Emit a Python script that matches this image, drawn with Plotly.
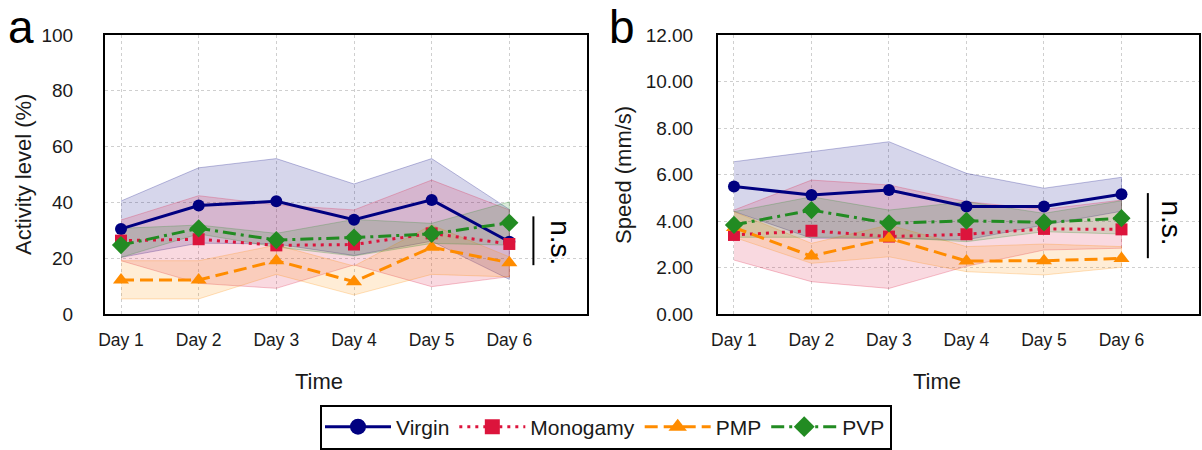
import plotly.graph_objects as go

days = ["Day 1", "Day 2", "Day 3", "Day 4", "Day 5", "Day 6"]
groups = ["Virgin", "Monogamy", "PMP", "PVP"]

# Panel a: Activity level (%)
act_virgin = [30.5, 38.9, 40.4, 33.8, 40.9, 25.9]
act_virgin_lo = [20.3, 25.4, 25.1, 21.0, 26.1, 12.4]
act_virgin_hi = [40.5, 52.4, 55.7, 46.6, 55.7, 37.5]
act_mono = [26.3, 26.8, 24.6, 24.9, 28.9, 25.1]
act_mono_lo = [19.1, 11.0, 9.2, 17.6, 9.8, 13.4]
act_mono_hi = [33.7, 42.4, 39.1, 37.3, 48.0, 37.3]
act_pmp = [12.2, 12.2, 19.1, 11.6, 23.9, 18.4]
act_pmp_lo = [5.4, 5.4, 14.2, 6.8, 14.2, 13.3]
act_pmp_hi = [19.1, 19.1, 24.7, 17.2, 31.9, 20.5]
act_pvp = [24.7, 30.7, 26.5, 27.4, 28.7, 32.7]
act_pvp_lo = [20.3, 28.7, 24.0, 20.8, 25.3, 24.7]
act_pvp_hi = [30.7, 31.9, 28.9, 33.9, 32.5, 40.2]

# Panel b: Speed (mm/s)
spd_virgin = [5.48, 5.12, 5.33, 4.62, 4.62, 5.15]
spd_virgin_lo = [4.41, 3.26, 3.25, 3.19, 3.83, 4.42]
spd_virgin_hi = [6.55, 6.98, 7.41, 6.05, 5.41, 5.88]
spd_mono = [3.40, 3.58, 3.33, 3.43, 3.66, 3.64]
spd_mono_lo = [2.32, 1.39, 1.10, 2.05, 2.75, 2.83]
spd_mono_hi = [4.47, 5.76, 5.55, 4.83, 4.50, 4.90]
spd_pmp = [3.72, 2.49, 3.26, 2.28, 2.29, 2.39]
spd_pmp_lo = [3.30, 2.18, 2.46, 1.82, 1.68, 2.01]
spd_pmp_hi = [4.40, 3.04, 3.83, 2.90, 3.01, 2.90]
spd_pvp = [3.83, 4.47, 3.90, 4.01, 3.94, 4.12]
spd_pvp_lo = [3.30, 3.30, 3.30, 3.11, 3.54, 3.44]
spd_pvp_hi = [4.40, 5.04, 4.47, 4.83, 4.33, 4.87]

styles = {
    "Virgin": dict(color=(0, 0, 128), dash="solid", symbol="circle", msize=12, lsize=16),
    "Monogamy": dict(color=(220, 20, 60), dash="3px,5px", symbol="square", msize=12, lsize=15),
    "PMP": dict(color=(255, 140, 0), dash="13px,6px", symbol="triangle-up", msize=14, lsize=18),
    "PVP": dict(color=(34, 139, 34), dash="13px,5px,3px,5px", symbol="diamond", msize=14, lsize=18),
}

panels = [
    ("x", "y", {
        "Virgin": (act_virgin, act_virgin_lo, act_virgin_hi),
        "Monogamy": (act_mono, act_mono_lo, act_mono_hi),
        "PMP": (act_pmp, act_pmp_lo, act_pmp_hi),
        "PVP": (act_pvp, act_pvp_lo, act_pvp_hi),
    }),
    ("x2", "y2", {
        "Virgin": (spd_virgin, spd_virgin_lo, spd_virgin_hi),
        "Monogamy": (spd_mono, spd_mono_lo, spd_mono_hi),
        "PMP": (spd_pmp, spd_pmp_lo, spd_pmp_hi),
        "PVP": (spd_pvp, spd_pvp_lo, spd_pvp_hi),
    }),
]

def rgba(c, a):
    return f"rgba({c[0]},{c[1]},{c[2]},{a})"

fig = go.Figure()
for xa, ya, data in panels:
    for g in groups:
        mean, lo, hi = data[g]
        c = styles[g]["color"]
        fig.add_trace(go.Scatter(
            x=days + days[::-1], y=hi + lo[::-1], fill="toself",
            fillcolor=rgba(c, 0.16), line=dict(color=rgba(c, 0.25), width=1),
            mode="lines", showlegend=False, hoverinfo="skip", xaxis=xa, yaxis=ya))
for xa, ya, data in panels:
    for g in groups:
        mean, lo, hi = data[g]
        s = styles[g]
        fig.add_trace(go.Scatter(
            x=days, y=mean, mode="lines+markers", name=g, legendgroup=g,
            line=dict(color=rgba(s["color"], 1), width=3, dash=s["dash"]),
            marker=dict(symbol=s["symbol"], size=s["msize"], color=rgba(s["color"], 1)),
            showlegend=False, xaxis=xa, yaxis=ya))
# legend entries (slightly larger markers, as in the original legend)
for g in groups:
    s = styles[g]
    fig.add_trace(go.Scatter(
        x=[None], y=[None], mode="lines+markers", name=g, legendgroup=g,
        line=dict(color=rgba(s["color"], 1), width=3, dash=s["dash"]),
        marker=dict(symbol=s["symbol"], size=s["lsize"], color=rgba(s["color"], 1)),
        showlegend=True))

font_fam = "Arial, Liberation Sans, sans-serif"
axis_common = dict(showline=True, mirror=True, linecolor="black", linewidth=2,
                   showgrid=True, gridcolor="#cfcfcf", griddash="dot", gridwidth=1,
                   zeroline=False, ticks="", automargin=False)
fig.update_layout(
    width=1202, height=450, autosize=False,
    margin=dict(l=0, r=0, t=0, b=0, pad=0, autoexpand=False),
    paper_bgcolor="white", plot_bgcolor="white",
    font=dict(family=font_fam, color="#1a1a1a"),
    xaxis=dict(domain=[105/1202, 587/1202], type="category", range=[-0.206, 6.0],
               tickfont=dict(size=17.5), ticklabelstandoff=9, **axis_common),
    yaxis=dict(domain=[1-314/450, 1-35/450], range=[0, 100], tickvals=[0, 20, 40, 60, 80, 100],
               tickfont=dict(size=19), ticklabelstandoff=26, **axis_common),
    xaxis2=dict(domain=[718/1202, 1199/1202], type="category", range=[-0.206, 6.0],
                tickfont=dict(size=17.5), ticklabelstandoff=9, anchor="y2", **axis_common),
    yaxis2=dict(domain=[1-314/450, 1-35/450], range=[0, 12], tickvals=[0, 2, 4, 6, 8, 10, 12],
                tickformat=".2f", tickfont=dict(size=19), ticklabelstandoff=19, anchor="x2",
                **axis_common),
    legend=dict(orientation="h", x=606/1202, xanchor="center", y=1-427/450, yanchor="middle",
                bordercolor="black", borderwidth=2, font=dict(size=21, color="#1a1a1a"),
                itemwidth=66, bgcolor="white"),
)

ann = [
    dict(text="a", x=21/1202, y=1-27/450, font=dict(size=46, color="black")),
    dict(text="b", x=622/1202, y=1-27/450, font=dict(size=46, color="black")),
    dict(text="Activity level (%)", x=24/1202, y=1-175/450, textangle=-90, font=dict(size=22)),
    dict(text="Speed (mm/s)", x=624/1202, y=1-175/450, textangle=-90, font=dict(size=22)),
    dict(text="Time", x=319/1202, y=1-381/450, font=dict(size=22)),
    dict(text="Time", x=937/1202, y=1-381/450, font=dict(size=22)),
]
for a in ann:
    fig.add_annotation(xref="paper", yref="paper", showarrow=False, xanchor="center",
                       yanchor="middle", **a)
# n.s. markers
fig.add_annotation(xref="x", yref="y", x=5.66, y=25.5, text="n.s.", textangle=90,
                   showarrow=False, font=dict(size=28, color="black"))
fig.add_annotation(xref="x2", yref="y2", x=5.65, y=3.9, text="n.s.", textangle=90,
                   showarrow=False, font=dict(size=28, color="black"))
fig.add_shape(type="line", xref="x", yref="y", x0=5.31, x1=5.31, y0=17.5, y1=35,
              line=dict(color="black", width=2))
fig.add_shape(type="line", xref="x2", yref="y2", x0=5.34, x1=5.34, y0=2.4, y1=5.2,
              line=dict(color="black", width=2))

fig.write_html("out.html", config={"displayModeBar": False},
               post_script="document.body.style.margin='0';document.body.style.overflow='hidden';")
